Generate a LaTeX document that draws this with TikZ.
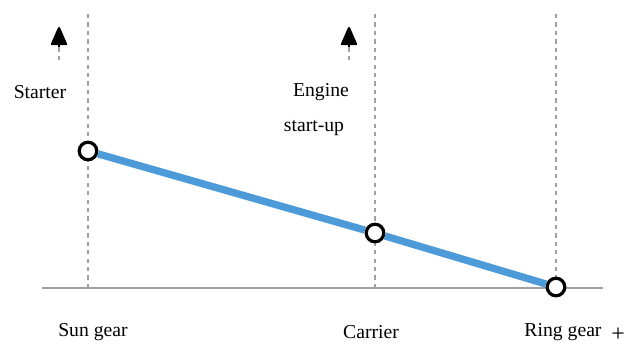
\documentclass[tikz,border=0pt]{standalone}
\usepackage{fontspec}
\setmainfont{Liberation Serif}
\usepackage{xcolor}
\usetikzlibrary{arrows.meta,positioning}
\definecolor{levblue}{HTML}{4D9AD8}
\definecolor{guidegray}{HTML}{A0A0A0}
\tikzset{
  label/.style={font=\rmfamily\fontsize{14}{16}\selectfont, inner sep=1pt},
  gear/.style={circle, draw=black, fill=white, line width=2.3pt,
               minimum size=4.4mm, inner sep=0pt},
  guide/.style={draw=guidegray, line width=1.2pt, dash pattern=on 3pt off 3pt},
  axis/.style={draw=guidegray, line width=1.4pt},
  lever/.style={draw=levblue, line width=5.2pt},
  pushhead/.style={draw=black, line width=1.6pt,
                   -{Triangle[length=5mm, width=4.2mm, round, fill=black]}}
}

\begin{document}
\begin{tikzpicture}
  \useasboundingbox (0,0) rectangle (15.75,8.675);
  % axis and guide lines
  \coordinate (axl) at (1.05,1.475);
  \coordinate (axr) at (15.075,1.475);
  \draw[axis] (axl) -- (axr);
  \coordinate (suntop) at (2.2,8.325);
  \coordinate (sunbot) at (2.2,1.475);
  \coordinate (cartop) at (9.375,8.325);
  \coordinate (carbot) at (9.375,1.475);
  \coordinate (ringtop) at (13.9,8.325);
  \coordinate (ringbot) at (13.9,1.6);
  \draw[guide] (suntop) -- (sunbot);
  \draw[guide] (cartop) -- (carbot);
  \draw[guide] (ringtop) -- (ringbot);
  % lever
  \node[gear] (sun) at (2.2,4.9) {};
  \node[gear] (carrier) at (9.375,2.85) {};
  \node[gear] (ring) at (13.9,1.5) {};
  \draw[lever] (sun) -- (carrier);
  \draw[lever] (carrier) -- (ring);
  % torque arrows
  \coordinate (startlo) at (1.475,7.175);
  \coordinate (startmid) at (1.475,7.5);
  \coordinate (starthi) at (1.475,8.0);
  \draw[guide] (startlo) -- (startmid);
  \draw[pushhead] (startmid) -- (starthi);
  \coordinate (englo) at (8.725,7.175);
  \coordinate (engmid) at (8.725,7.5);
  \coordinate (enghi) at (8.725,8.0);
  \draw[guide] (englo) -- (engmid);
  \draw[pushhead] (engmid) -- (enghi);
  % texts
  \node[label] (starter) at (1.0,6.375) {Starter};
  \node[label] (engine) at (8.025,6.375) {Engine};
  \node[label] (startup) at (7.85,5.475) {start-up};
  \node[label] (sunlab) at (2.325,0.375) {Sun gear};
  \node[label] (carlab) at (9.275,0.375) {Carrier};
  \node[label] (ringlab) at (14.075,0.375) {Ring gear};
  \node[label, font=\rmfamily\fontsize{17}{18}\selectfont] (plus) at (15.45,0.3) {+};
\end{tikzpicture}
\end{document}
